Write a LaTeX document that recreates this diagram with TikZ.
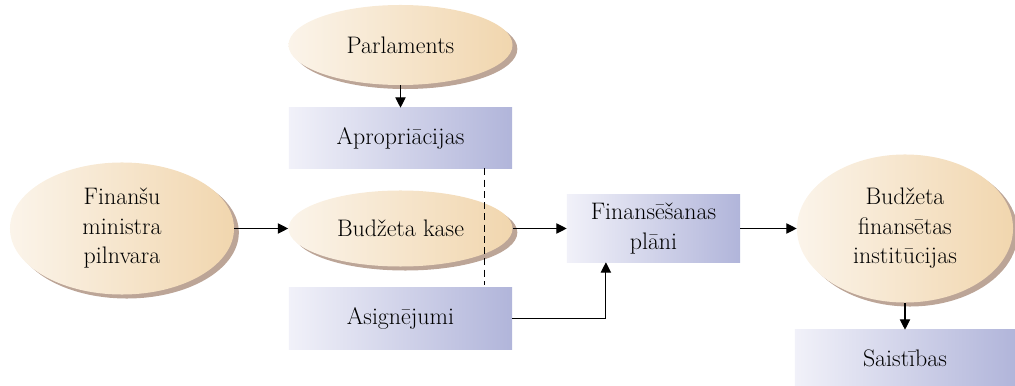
\documentclass[tikz,border=0pt]{standalone}
\usepackage{fontspec}
\usetikzlibrary{calc}
\usetikzlibrary{positioning}
\usetikzlibrary{shapes.geometric}
\usetikzlibrary{shadows}
\usetikzlibrary{arrows.meta}

\definecolor{creamlight}{HTML}{FBF4EA}
\definecolor{creamdark}{HTML}{F1D6AE}
\definecolor{shadowtan}{HTML}{BCA597}
\definecolor{bluelight}{HTML}{F1F1F9}
\definecolor{bluedark}{HTML}{B1B5DA}

\tikzset{
  oval/.style={ellipse, inner sep=0pt, align=center,
    left color=creamlight, right color=creamdark,
    drop shadow={fill=shadowtan, opacity=1, shadow xshift=0.12cm, shadow yshift=-0.1cm}},
  plate/.style={rectangle, inner sep=0pt, align=center,
    left color=bluelight, right color=bluedark},
  link/.style={-{Triangle[length=2.6mm,width=2.6mm]}, line width=0.75pt},
  every node/.style={font=\fontsize{17}{21}\selectfont}
}

\begin{document}
\begin{tikzpicture}[x=0.025cm, y=-0.025cm]
      \useasboundingbox (0,0) rectangle (1015,386);

      % ovals
      \node[oval, minimum width=5.6cm, minimum height=2cm] (parl) at (400.5,45) {Parlaments};
      \node[oval, minimum width=5.6cm, minimum height=1.9cm] (kase) at (400.5,228.5) {Budžeta kase};
      \node[oval, minimum width=5.6cm, minimum height=3.3cm] (pilnv) at (122,228.5) {Finanšu\\ministra\\pilnvara};
      \node[oval, minimum width=5.4cm, minimum height=3.7cm] (inst) at (905,228.5) {Budžeta\\finansētas\\institūcijas};

      % plates
      \node[plate, minimum width=5.575cm, minimum height=1.5cm] (aprop) at (400.5,138) {Apropriācijas};
      \node[plate, minimum width=5.575cm, minimum height=1.525cm] (asig) at (400.5,318.5) {Asignējumi};
      \node[plate, minimum width=4.325cm, minimum height=1.675cm] (plani) at (653.5,228.5) {Finansēšanas\\plāni};
      \node[plate, minimum width=5.5cm, minimum height=1.4cm] (saist) at (905,358) {Saistības};

      % connectors
      \draw[link] (parl.south) -- (aprop.north);
      \draw[link] (pilnv.east) -- (kase.west);
      \draw[link] (kase.east) -- (plani.west);
      \draw[link] (asig.east) -| ($(plani.south)+(-1.19cm,0)$);
      \draw[link] (plani.east) -- (inst.west);
      \draw[link] (inst.south) -- (saist.north);
      \draw[line width=0.75pt, dash pattern=on 5pt off 3pt]
        ([xshift=2.09cm]aprop.south) -- ([xshift=2.09cm,yshift=0.07cm]asig.north);
\end{tikzpicture}
\end{document}
